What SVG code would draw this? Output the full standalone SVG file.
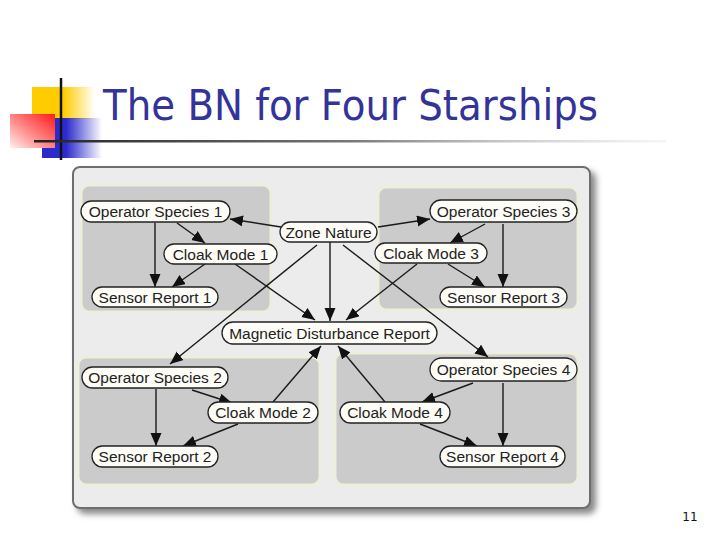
<svg xmlns="http://www.w3.org/2000/svg" width="720" height="540" viewBox="0 0 720 540">
<defs>
<linearGradient id="gy" x1="0" y1="0" x2="1" y2="0"><stop offset="0" stop-color="#ffcc00"/><stop offset="0.5" stop-color="#ffcc00"/><stop offset="1" stop-color="#ffcc00" stop-opacity="0"/></linearGradient>
<linearGradient id="gb" x1="0" y1="0" x2="1" y2="0"><stop offset="0" stop-color="#2b2bcc"/><stop offset="0.4" stop-color="#2b2bcc"/><stop offset="1" stop-color="#2b2bcc" stop-opacity="0"/></linearGradient>
<linearGradient id="gr" x1="1" y1="0" x2="0" y2="1"><stop offset="0" stop-color="#ff1a1a"/><stop offset="0.55" stop-color="#ff8a8a"/><stop offset="1" stop-color="#ffeeee"/></linearGradient>
<linearGradient id="gl" x1="0" y1="0" x2="1" y2="0"><stop offset="0" stop-color="#222"/><stop offset="0.5" stop-color="#777"/><stop offset="1" stop-color="#ddd" stop-opacity="0.3"/></linearGradient>
<filter id="sh" x="-5%" y="-5%" width="115%" height="115%"><feGaussianBlur stdDeviation="3"/></filter>
<marker id="ah" markerUnits="userSpaceOnUse" markerWidth="14" markerHeight="12" refX="13" refY="5.5" orient="auto"><path d="M0,0 L13,5.5 L0,11 z" fill="#111"/></marker>
<style>
.q{fill:#cbcbcb;stroke:#eeeedd;stroke-width:3}
.n rect{fill:#fdfcf6;stroke:#222;stroke-width:1.3}
.n text{font-family:"Liberation Sans",Arial,sans-serif;font-size:15.5px;fill:#222;text-anchor:middle}
#edges line{stroke:#1a1a1a;stroke-width:1.4;marker-end:url(#ah)}
</style>
</defs>
<rect width="720" height="540" fill="#fff"/>
<!-- title decoration -->
<rect x="32" y="87" width="63" height="32" fill="url(#gy)"/>
<rect x="42" y="118" width="60" height="40" fill="url(#gb)"/>
<rect x="10" y="114" width="45" height="34" fill="url(#gr)"/>
<line x1="61" y1="78" x2="61" y2="160" stroke="#111" stroke-width="2.5"/>
<rect x="34" y="140" width="632" height="2.5" fill="url(#gl)"/>
<text x="103" y="120" font-family="'DejaVu Sans',Verdana,sans-serif" font-size="42" fill="#333399" textLength="495" lengthAdjust="spacingAndGlyphs">The BN for Four Starships</text>
<!-- panel -->
<rect x="77" y="171" width="519" height="343" rx="8" fill="#888" filter="url(#sh)"/>
<rect x="73" y="167" width="517" height="341" rx="7" fill="#ececec" stroke="#6e6e6e" stroke-width="2"/>
<rect class="q" x="81" y="185" width="190" height="127" rx="8"/>
<rect class="q" x="378" y="187" width="200" height="123" rx="8"/>
<rect class="q" x="78" y="357" width="242" height="128" rx="8"/>
<rect class="q" x="335" y="353" width="243" height="132" rx="8"/>
<g id="edges">
<line x1="281" y1="227" x2="230" y2="219"/>
<line x1="378" y1="227" x2="430" y2="219"/>
<line x1="330" y1="242" x2="330" y2="321"/>
<line x1="317" y1="245" x2="170" y2="364"/>
<line x1="343" y1="245" x2="488" y2="357"/>
<line x1="177" y1="223" x2="205" y2="243"/>
<line x1="155" y1="223" x2="155" y2="287"/>
<line x1="205" y1="264" x2="172" y2="287"/>
<line x1="235" y1="264" x2="315" y2="320"/>
<line x1="417" y1="264" x2="346" y2="320"/>
<line x1="485" y1="224" x2="450" y2="243"/>
<line x1="503" y1="224" x2="503" y2="287"/>
<line x1="448" y1="264" x2="485" y2="287"/>
<line x1="156" y1="389" x2="156" y2="446"/>
<line x1="192" y1="390" x2="232" y2="403"/>
<line x1="238" y1="424" x2="183" y2="446"/>
<line x1="273" y1="402" x2="321" y2="346"/>
<line x1="385" y1="402" x2="338" y2="346"/>
<line x1="473" y1="383" x2="422" y2="402"/>
<line x1="503" y1="383" x2="503" y2="446"/>
<line x1="420" y1="424" x2="477" y2="446"/>
</g>
<g id="os1" class="n"><rect x="81" y="201" width="149" height="21" rx="10.5"/><text x="155.5" y="217">Operator Species 1</text></g>
<g id="zn" class="n"><rect x="280" y="222" width="97" height="20" rx="10"/><text x="328.5" y="237.5">Zone Nature</text></g>
<g id="cm1" class="n"><rect x="164" y="244" width="113" height="20" rx="10"/><text x="220.5" y="259.5">Cloak Mode 1</text></g>
<g id="sr1" class="n"><rect x="92" y="287" width="126" height="20" rx="10"/><text x="155" y="302.5">Sensor Report 1</text></g>
<g id="os3" class="n"><rect x="430" y="200" width="147" height="22" rx="11"/><text x="503.5" y="216.5">Operator Species 3</text></g>
<g id="cm3" class="n"><rect x="375" y="243" width="112" height="20" rx="10"/><text x="431" y="258.5">Cloak Mode 3</text></g>
<g id="sr3" class="n"><rect x="440" y="287" width="127" height="20" rx="10"/><text x="503.5" y="302.5">Sensor Report 3</text></g>
<g id="mdr" class="n"><rect x="222" y="322" width="215" height="22" rx="11"/><text x="329.5" y="338.5">Magnetic Disturbance Report</text></g>
<g id="os2" class="n"><rect x="82" y="367" width="146" height="21" rx="10.5"/><text x="155" y="383">Operator Species 2</text></g>
<g id="cm2" class="n"><rect x="208" y="402" width="110" height="21" rx="10.5"/><text x="263" y="418">Cloak Mode 2</text></g>
<g id="sr2" class="n"><rect x="92" y="446" width="126" height="21" rx="10.5"/><text x="155" y="462">Sensor Report 2</text></g>
<g id="os4" class="n"><rect x="430" y="358" width="147" height="23" rx="11.5"/><text x="503.5" y="375">Operator Species 4</text></g>
<g id="cm4" class="n"><rect x="340" y="402" width="110" height="21" rx="10.5"/><text x="395" y="418">Cloak Mode 4</text></g>
<g id="sr4" class="n"><rect x="440" y="446" width="125" height="21" rx="10.5"/><text x="502.5" y="462">Sensor Report 4</text></g>
<text x="690" y="521" font-family="'DejaVu Sans',Verdana,sans-serif" font-size="12" fill="#111" text-anchor="middle">11</text>
</svg>
